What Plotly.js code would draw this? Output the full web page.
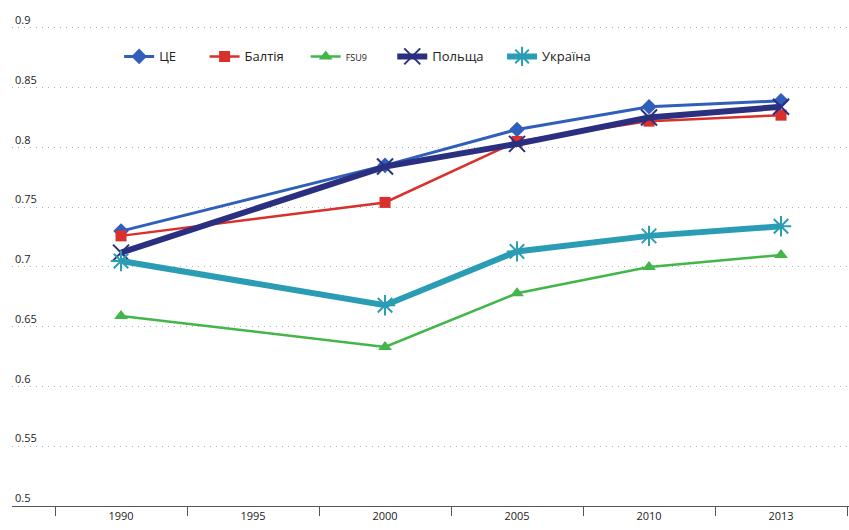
<!DOCTYPE html>
<html>
<head>
<meta charset="utf-8">
<script src="https://cdn.plot.ly/plotly-3.0.1.min.js"></script>
<style>body{margin:0;padding:0;background:#fff}#chart{width:849px;height:530px}</style>
</head>
<body>
<div id="chart"></div>
<script>
var categories = ['1990', '1995', '2000', '2005', '2010', '2013'];
var years = ['1990', '2000', '2005', '2010', '2013'];
var ce = [0.730, 0.785, 0.815, 0.834, 0.839];
var baltia = [0.726, 0.754, 0.805, 0.822, 0.827];
var fsu9 = [0.659, 0.633, 0.678, 0.700, 0.710];
var polshcha = [0.712, 0.784, 0.803, 0.825, 0.834];
var ukraina = [0.705, 0.668, 0.713, 0.726, 0.734];
var yTicks = [0.5, 0.55, 0.6, 0.65, 0.7, 0.75, 0.8, 0.85, 0.9];
var seriesNames = ['ЦЕ', 'Балтія', 'FSU9', 'Польща', 'Україна'];

function pad(n) { var s = ''; for (var i = 0; i < n; i++) s += '\u00a0'; return s; }

var traces = [
  {x: years, y: ce, name: seriesNames[0] + pad(7), mode: 'lines+markers', type: 'scatter',
   line: {color: '#2f5fba', width: 3},
   marker: {symbol: 'diamond', size: 12, color: '#2f5fba'}},
  {x: years, y: baltia, name: seriesNames[1] + pad(5), mode: 'lines+markers', type: 'scatter',
   line: {color: '#d9302c', width: 2.5},
   marker: {symbol: 'square', size: 11, color: '#d9302c'}},
  {x: years, y: fsu9, name: '<span style="font-size:9px">' + seriesNames[2] + '</span>' + pad(6), mode: 'lines+markers', type: 'scatter',
   line: {color: '#43b649', width: 2.5},
   marker: {symbol: 'triangle-up', size: 12, color: '#43b649'}},
  {x: years, y: polshcha, name: seriesNames[3] + pad(4), mode: 'lines+markers', type: 'scatter',
   line: {color: '#2b2f7f', width: 6},
   marker: {symbol: 'x-thin', size: 16, color: '#2b2f7f', line: {color: '#2b2f7f', width: 2}}},
  {x: years, y: ukraina, name: seriesNames[4], mode: 'lines+markers', type: 'scatter',
   line: {color: '#2a9db4', width: 6},
   marker: {symbol: 'asterisk', size: 17, color: '#2a9db4', line: {color: '#2a9db4', width: 2}}}
];

var layout = {
  width: 849, height: 530,
  margin: {l: 12, r: 0, t: 4, b: 24, autoexpand: false},
  paper_bgcolor: '#fff', plot_bgcolor: '#fff',
  font: {family: 'Open Sans, sans-serif', size: 11, color: '#222'},
  showlegend: true,
  legend: {orientation: 'h', x: 0.128, y: 0.8955, xanchor: 'left', yanchor: 'middle',
           font: {size: 13, color: '#222'}, bgcolor: 'rgba(0,0,0,0)', traceorder: 'normal',
           itemwidth: 30},
  xaxis: {type: 'category', categoryorder: 'array', categoryarray: categories,
          tickvals: categories, ticktext: categories,
          range: [-0.826, 5.515], tickson: 'boundaries', ticks: 'outside', ticklen: 9, tickcolor: '#555',
          showgrid: false, zeroline: false, showline: true, linecolor: '#555', linewidth: 1,
          tickfont: {size: 11, color: '#222'}, fixedrange: true},
  yaxis: {range: [0.5, 0.92], tickvals: yTicks, ticktext: yTicks.map(String),
          ticklabelposition: 'inside top', ticks: '', showline: false, zeroline: false,
          showgrid: true, gridcolor: '#b0b0b0', griddash: '1px,5px', gridwidth: 1,
          tickfont: {size: 11, color: '#222'}, fixedrange: true}
};

Plotly.newPlot('chart', traces, layout, {displayModeBar: false, staticPlot: true});
</script>
</body>
</html>
